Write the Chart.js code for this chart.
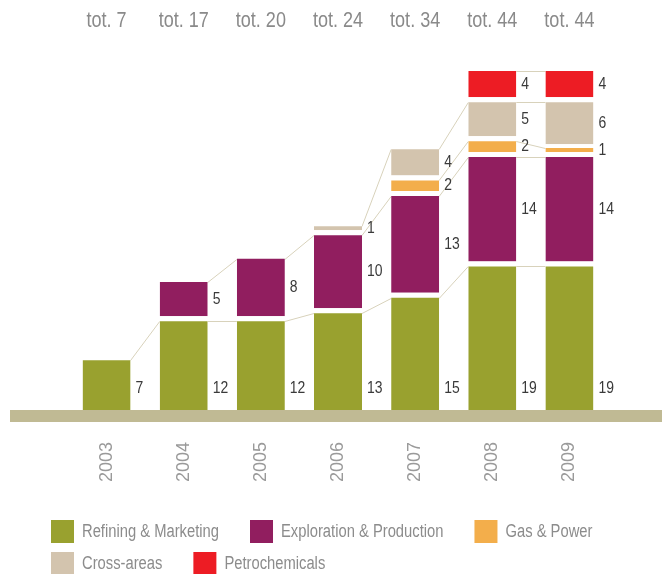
<!DOCTYPE html>
<html>
<head>
<meta charset="utf-8">
<script src="https://cdn.jsdelivr.net/npm/chart.js@4.4.0/dist/chart.umd.min.js"></script>
<style>
  body { margin: 0; background: #fff; }
  canvas { display: block; }
</style>
</head>
<body>
<canvas id="chart" width="662" height="574"></canvas>
<script>
const years = ['2003', '2004', '2005', '2006', '2007', '2008', '2009'];
const refining = [7, 12, 12, 13, 15, 19, 19];
const exploration = [0, 5, 8, 10, 13, 14, 14];
const gasPower = [0, 0, 0, 0, 2, 2, 1];
const crossAreas = [0, 0, 0, 1, 4, 5, 6];
const petrochemicals = [0, 0, 0, 0, 0, 4, 4];
const seriesNames = ['Refining & Marketing', 'Exploration & Production', 'Gas & Power', 'Cross-areas', 'Petrochemicals'];
const seriesColors = ['#99a12f', '#911e5f', '#f3ae4b', '#d3c4ae', '#ed1c24'];

const series = [refining, exploration, gasPower, crossAreas, petrochemicals];
const totals = years.map((y, i) => 'tot. ' + series.reduce((s, arr) => s + arr[i], 0));

const FONT = "'Liberation Sans', Arial, sans-serif";
const NARROW = 0.82;   // squeeze text horizontally to get a condensed look
const GAP = 5;
const legendRows = [[0, 1, 2], [3, 4]];

function visibleTop(bar) {
  return bar.y + Math.min(GAP, (bar.base - bar.y) / 2);
}

function narrowText(ctx, text, x, y, align) {
  ctx.save();
  ctx.translate(x, y);
  ctx.scale(NARROW, 1);
  ctx.textAlign = align;
  ctx.fillText(text, 0, 0);
  ctx.restore();
}

const decorations = {
  id: 'decorations',
  beforeDatasetsDraw(chart) {
    const ctx = chart.ctx;
    const zero = chart.scales.y.getPixelForValue(0);
    ctx.save();
    // baseline band
    ctx.fillStyle = '#c0ba94';
    ctx.fillRect(10, zero, chart.width - 10, 12);
    // connector lines between neighbouring segments
    ctx.strokeStyle = '#d8d2bb';
    ctx.lineWidth = 1;
    chart.data.datasets.forEach((ds, d) => {
      const bars = chart.getDatasetMeta(d).data;
      for (let i = 0; i < bars.length - 1; i++) {
        if (!ds.data[i] || !ds.data[i + 1]) continue;
        const a = bars[i], b = bars[i + 1];
        ctx.beginPath();
        ctx.moveTo(a.x + a.width / 2, Math.round(visibleTop(a)) + 0.5);
        ctx.lineTo(b.x - b.width / 2, Math.round(visibleTop(b)) + 0.5);
        ctx.stroke();
      }
    });
    ctx.restore();
  },
  afterDatasetsDraw(chart) {
    const ctx = chart.ctx;
    ctx.save();
    ctx.textBaseline = 'middle';
    // segment values
    ctx.font = '17px ' + FONT;
    ctx.fillStyle = '#3a3a3a';
    chart.data.datasets.forEach((ds, d) => {
      chart.getDatasetMeta(d).data.forEach((bar, i) => {
        if (!ds.data[i]) return;
        const y = d === 0 ? bar.base - 22 : (visibleTop(bar) + bar.base) / 2;
        narrowText(ctx, String(ds.data[i]), bar.x + bar.width / 2 + 5, y, 'left');
      });
    });
    // totals above the bars
    ctx.font = '22px ' + FONT;
    ctx.fillStyle = '#8a8a8a';
    totals.forEach((t, i) => {
      narrowText(ctx, t, chart.scales.x.getPixelForValue(i), 21, 'center');
    });
    ctx.restore();
  },
  afterDraw(chart) {
    const ctx = chart.ctx;
    ctx.save();
    ctx.font = '18px ' + FONT;
    ctx.textBaseline = 'middle';
    legendRows.forEach((row, r) => {
      let x = 51;
      const top = 520 + r * 32;
      row.forEach(k => {
        ctx.fillStyle = seriesColors[k];
        ctx.fillRect(x, top, 23, 23);
        ctx.fillStyle = '#8c8c8c';
        narrowText(ctx, seriesNames[k], x + 31, top + 12, 'left');
        x += 31 + ctx.measureText(seriesNames[k]).width * NARROW + 31;
      });
    });
    ctx.restore();
  }
};

new Chart(document.getElementById('chart'), {
  type: 'bar',
  data: {
    labels: years,
    datasets: series.map((arr, k) => ({
      label: seriesNames[k],
      data: arr.map(v => v || null),
      backgroundColor: seriesColors[k],
      borderColor: '#ffffff',
      borderWidth: { top: GAP, right: 0, bottom: 0, left: 0 },
      borderSkipped: false,
      inflateAmount: 0,
      barThickness: 48
    }))
  },
  options: {
    responsive: false,
    animation: false,
    layout: { padding: { left: 68, right: 54, top: 66, bottom: 0 } },
    plugins: {
      legend: { display: false },
      tooltip: { enabled: false }
    },
    scales: {
      x: {
        stacked: true,
        grid: { display: false, drawTicks: false },
        border: { display: false },
        ticks: {
          minRotation: 90,
          maxRotation: 90,
          padding: 32,
          color: '#9a9a9a',
          font: { family: FONT, size: 18 }
        },
        afterFit: s => { s.height = 164; }
      },
      y: {
        stacked: true,
        display: false,
        min: 0,
        max: 44
      }
    }
  },
  plugins: [decorations]
});
</script>
</body>
</html>
